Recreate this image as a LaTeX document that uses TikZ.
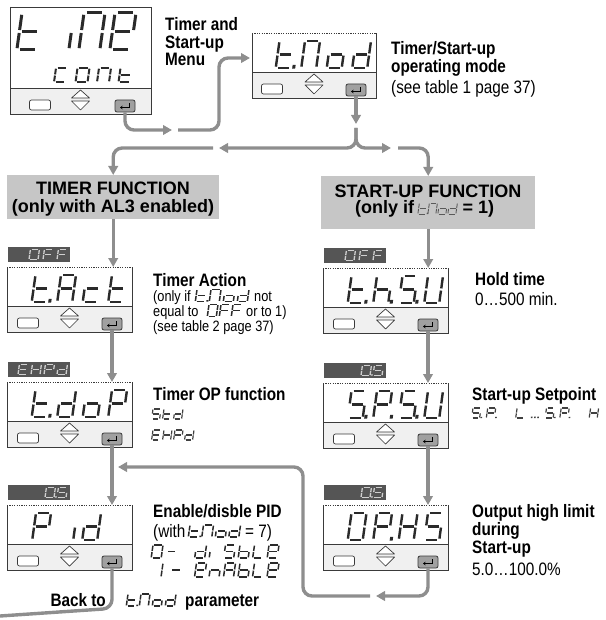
\documentclass[tikz,border=0pt]{standalone}
\usepackage{fontspec}
\setmainfont{Liberation Sans}[FakeStretch=0.85,BoldFeatures={FakeStretch=0.85}]
\newfontfamily\hdrfont{Liberation Sans}
\usetikzlibrary{arrows.meta,calc}
\definecolor{flowc}{HTML}{8E8E8E}
\definecolor{hdrc}{HTML}{C6C6C6}
\definecolor{badgec}{HTML}{555555}
\definecolor{segdk}{HTML}{2A2A2A}
\definecolor{seglt}{HTML}{D0D0D0}
\definecolor{stripc}{HTML}{F0F0F0}
\definecolor{entc}{HTML}{A0A0A0}
\definecolor{edgec}{HTML}{3A3A3A}

\makeatletter
\def\sgm@t{d,e,f,g}
\def\sgm@i{c}
\def\sgm@ie{e}
\def\sgm@M{a,b,c,e,f}
\def\sgm@E{a,d,e,f,g}
\def\sgm@e{a,b,d,e,f,g}
\def\sgm@c{d,e,g}
\def\sgm@C{a,d,e,f}
\def\sgm@o{c,d,e,g}
\def\sgm@O{a,b,c,d,e,f}
\def\sgm@n{c,e,g}
\def\sgm@N{a,b,c,e,f}
\def\sgm@d{b,c,d,e,g}
\def\sgm@F{a,e,f,g}
\def\sgm@H{b,c,e,f,g}
\def\sgm@P{a,b,e,f,g}
\def\sgm@A{a,b,c,e,f,g}
\def\sgm@S{a,c,d,f,g}
\def\sgm@U{b,c,d,e,f}
\def\sgm@h{c,e,f,g}
\def\sgm@L{d,e,f}
\def\sgm@b{c,d,e,f,g}
\def\sgm@one{b,c}
\def\sgm@m{g}
\def\sgm@sp{z}
\def\sgm@el{q}
\def\sgd@a{\draw (0.14,0)--(0.86,0);}
\def\sgd@b{\draw (1,0.05)--(1,0.46);}
\def\sgd@c{\draw (1,0.54)--(1,0.95);}
\def\sgd@d{\draw (0.14,1)--(0.86,1);}
\def\sgd@e{\draw (0,0.54)--(0,0.95);}
\def\sgd@f{\draw (0,0.05)--(0,0.46);}
\def\sgd@g{\draw (0.14,0.5)--(0.86,0.5);}
\def\sgd@z{}
\def\sgd@q{\foreach \dotx in {0.05,0.45,0.85}{\fill (\dotx,0.86) rectangle (\dotx+0.2,1.02);}}
\newcommand\sevseg[6][]{%
  \begin{scope}[shift={#2},#1]
  \foreach \ch/\dt [count=\k from 0] in {#6}{%
    \begin{scope}[shift={({\k*#5},0)},xslant=0.14,xscale=#4,yscale=#3]
      \edef\seglist{\csname sgm@\ch\endcsname}%
      \foreach \s in \seglist {\csname sgd@\s\endcsname}%
      \ifnum\dt=1 \fill (1.1,0.88) rectangle (1.3,1.02);\fi
    \end{scope}}%
  \end{scope}}
\makeatother

\tikzset{
  dispbox/.style={anchor=north west, inner sep=0pt, outer sep=0pt, fill=white, draw=none},
  edge/.style={draw=edgec, line width=0.8pt},
  lbtn/.style={draw=edgec, fill=white, rounded corners=2pt, minimum width=21pt, minimum height=10pt, inner sep=0pt, line width=0.7pt},
  ebtn/.style={draw=edgec, fill=entc, rounded corners=2pt, minimum width=20pt, minimum height=12pt, inner sep=0pt, line width=0.8pt},
  updn/.style={draw=edgec, fill=white, line width=0.7pt, line join=round},
  entsym/.style={draw=black, line width=0.8pt, -{Stealth[length=2.5pt,width=3.5pt]}},
  flow/.style={draw=flowc, line width=3.4pt, rounded corners=9pt},
  arr/.style={flow, -{Triangle[length=9pt,width=9.5pt]}},
  badge/.style={anchor=north west, fill=badgec, minimum width=62pt, minimum height=15pt, inner sep=0pt},
  hdrbox/.style={fill=hdrc, inner sep=0pt, anchor=north west},
  lab/.style={anchor=base west, inner sep=0pt, font=\fontsize{18}{20}\selectfont\bfseries},
  txt/.style={anchor=base west, inner sep=0pt, font=\fontsize{18}{20}\selectfont},
  txts/.style={anchor=base west, inner sep=0pt, font=\fontsize{15}{17}\selectfont},
  hdrt/.style={anchor=base, inner sep=0pt, font=\hdrfont\fontsize{18}{20}\selectfont\bfseries},
  dsp/.style={segdk, line width=2.4pt},
  inl/.style={segdk, line width=1.5pt},
  sml/.style={black!75, line width=1.2pt},
  bdg/.style={seglt, line width=1.3pt}
}

% name, x, y, w, h, left-button offset, enter offset, top edge style
\newcommand\disp[8]{%
  \node[dispbox,minimum width=#4pt,minimum height=#5pt] (#1) at (#2,#3) {};
  \fill[stripc] ($(#1.south west)+(0,-26)$) rectangle (#1.south east);
  \draw[edge] (#1.north west) -- (#1.south west) -- (#1.south east) -- (#1.north east);
  \draw[edge,#8] (#1.north west) -- (#1.north east);
  \draw[edge] ($(#1.south west)+(0,-26)$) -- ($(#1.south east)+(0,-26)$);
  \node[lbtn] (#1-l) at ($(#1.south west)+(#6,-9)$) {};
  \node[ebtn] (#1-e) at ($(#1.south east)+(-#7,-8)$) {};
  \draw[updn] ($(#1.south)+(-9,-16)$) -- ($(#1.south)+(0,-24)$) -- ($(#1.south)+(9,-16)$) -- cycle;
  \draw[updn] ($(#1.south)+(-9,-13)$) -- ($(#1.south)+(0,-4)$) -- ($(#1.south)+(9,-13)$) -- cycle;
  \draw[entsym] ($(#1-e)+(4.5,-3)$) -- ($(#1-e)+(4.5,1.5)$) -- ($(#1-e)+(-5,1.5)$);
}

\begin{document}
\begin{tikzpicture}[x=1pt,y=-1pt]
\useasboundingbox (0,0) rectangle (605,620);

% ---------- displays ----------
\disp{time}{10}{7}{141}{107}{30}{26}{solid}
\sevseg[segdk,line width=3pt]{(22,13)}{37}{21}{31}{t/0,i/0,M/0,e/0}
\sevseg[segdk,line width=2pt]{(56,68)}{14}{12}{21.5}{C/0,O/0,N/0,t/0}

\disp{tmod}{252}{33}{124}{65}{20}{20}{dash pattern=on 1.2pt off 1.2pt}
\sevseg[dsp]{($(tmod.north east)+(-96.5,8)$)}{27}{15}{25.5}{t/1,M/0,o/0,d/0}

\disp{tact}{7}{267}{125}{65}{21}{20}{dash pattern=on 1.2pt off 1.2pt}
\sevseg[dsp]{($(tact.north east)+(-96.5,8)$)}{27}{15}{25.5}{t/1,A/0,c/0,t/0}
\disp{tdop}{7}{382}{125}{65}{21}{20}{dash pattern=on 1.2pt off 1.2pt}
\sevseg[dsp]{($(tdop.north east)+(-96.5,8)$)}{27}{15}{25.5}{t/1,d/0,o/0,P/0}
\disp{pid}{7}{505}{125}{65}{21}{20}{dash pattern=on 1.2pt off 1.2pt}
\sevseg[dsp]{($(pid.north west)+(29,8)$)}{27}{15}{0}{P/0}
\sevseg[dsp]{($(pid.north west)+(70,8)$)}{27}{15}{0}{ie/0}
\sevseg[dsp]{($(pid.north west)+(79,8)$)}{27}{15}{0}{d/0}

\disp{thsu}{323}{268}{125}{65}{21}{20}{dash pattern=on 1.2pt off 1.2pt}
\sevseg[dsp]{($(thsu.north east)+(-96.5,8)$)}{27}{15}{25.5}{t/1,h/1,S/1,U/0}
\disp{spsu}{323}{383}{125}{65}{21}{20}{dash pattern=on 1.2pt off 1.2pt}
\sevseg[dsp]{($(spsu.north east)+(-96.5,8)$)}{27}{15}{25.5}{S/1,P/1,S/1,U/0}
\disp{ophs}{323}{505}{125}{65}{21}{20}{dash pattern=on 1.2pt off 1.2pt}
\sevseg[dsp]{($(ophs.north east)+(-96.5,8)$)}{27}{15}{25.5}{O/0,P/1,H/0,S/0}

% ---------- badges ----------
\node[badge] (tactb) at (8,247) {};
\sevseg[bdg]{($(tactb.north east)+(-40,2.5)$)}{10}{9}{14}{O/0,F/0,F/0}
\node[badge] (tdopb) at (8,362) {};
\sevseg[bdg]{($(tdopb.north east)+(-51,2.5)$)}{10}{9}{13}{E/0,H/0,P/0,d/0}
\node[badge] (pidb) at (8,485) {};
\sevseg[bdg]{($(pidb.north east)+(-24,2.5)$)}{10}{9}{12}{O/1,S/0}
\node[badge] (thsub) at (324,248) {};
\sevseg[bdg]{($(thsub.north east)+(-40,2.5)$)}{10}{9}{14}{O/0,F/0,F/0}
\node[badge] (spsub) at (324,363) {};
\sevseg[bdg]{($(spsub.north east)+(-24,2.5)$)}{10}{9}{12}{O/1,S/0}
\node[badge] (ophsb) at (324,485) {};
\sevseg[bdg]{($(ophsb.north east)+(-24,2.5)$)}{10}{9}{12}{O/1,S/0}

% ---------- headers ----------
\node[hdrbox,minimum width=212pt,minimum height=44pt] (timer) at (7,175) {};
\node[hdrt] (th1) at (113,195) {TIMER FUNCTION};
\node[hdrt] (th2) at (113,212) {(only with AL3 enabled)};
\node[hdrbox,minimum width=214pt,minimum height=53pt] (startup) at (321,176) {};
\node[hdrt] (sh1) at (428,197) {START-UP FUNCTION};
\node[hdrt,anchor=base west] (sh2a) at (355,214) {(only if};
\sevseg[black!65,line width=0.9pt]{($(sh2a.base east)+(5,-11)$)}{11}{8}{10}{t/1,M/0,o/0,d/0}
\node[hdrt,anchor=base west] (sh2b) at ($(sh2a.base east)+(48,0)$) {= 1)};

% ---------- labels ----------
\node[lab] (m1) at (165,31) {Timer and};
\node[lab] (m2) at (165,48.5) {Start-up};
\node[lab] (m3) at (165,66) {Menu};
\node[lab] (o1) at (391,55) {Timer/Start-up};
\node[lab] (o2) at (391,73) {operating mode};
\node[txt] (o3) at (391,94) {(see table 1 page 37)};

\node[lab] (a1) at (153,286) {Timer Action};
\node[txts] (a2) at (153,301.5) {(only if};
\sevseg[inl]{(197,289.5)}{12}{10}{14}{t/1,M/0,o/0,d/0}
\node[txts] (a3) at (254,301.5) {not};
\node[txts] (a4) at (153,316.5) {equal to};
\sevseg[inl]{(209,304.5)}{12}{9}{12}{O/0,F/0,F/0}
\node[txts] (a5) at (246,316.5) {or to 1)};
\node[txts] (a6) at (153,331.5) {(see table 2 page 37)};

\node[lab] (h1) at (475,285) {Hold time};
\node[txt] (h2) at (475,305) {0…500 min.};

\node[lab] (p1) at (153,400) {Timer OP function};
\sevseg[sml]{(153,409)}{10}{8}{11}{S/0,t/0,d/0}
\sevseg[sml]{(153,430)}{10}{8}{11}{E/0,H/0,P/0,d/0}

\node[lab] (s1) at (472,400) {Start-up Setpoint};
\sevseg[sml]{(473,408)}{10}{8}{14.7}{S/1,P/1,sp/0,L/0,el/0,S/1,P/1,sp/0,H/0}

\node[lab] (e1) at (153,517) {Enable/disble PID};
\node[txt] (e2) at (153,537) {(with};
\sevseg[inl]{(190,525)}{12}{10}{13.5}{t/1,M/0,o/0,d/0}
\node[txt] (e3) at (245,537) {= 7)};
\sevseg[inl]{(153,545)}{13}{10}{14.5}{O/0,m/0,sp/0,d/0,ie/0,S/0,b/0,L/0,e/0}
\sevseg[inl]{(153,563)}{14}{10}{0}{one/0}
\sevseg[inl]{(172,563)}{14}{10}{0}{m/0}
\sevseg[inl]{(196.5,563)}{14}{10}{14.5}{e/0,n/0,A/0,b/0,L/0,e/0}

\node[lab] (u1) at (472,517) {Output high limit};
\node[lab] (u2) at (472,535) {during};
\node[lab] (u3) at (472,553) {Start-up};
\node[txt] (u4) at (472,575) {5.0…100.0\%};

\node[lab,anchor=base east] (k1) at (106,606) {Back to};
\sevseg[inl]{(128,594)}{12}{9}{13}{t/1,M/0,o/0,d/0}
\node[lab] (k2) at (185,606) {parameter};

% ---------- connectors ----------
\coordinate (c1) at (172,130);
\coordinate (c2) at (178,130);
\coordinate (c3) at (219,130);
\coordinate (c4) at (250,58);
\draw[arr] (time-e.south) |- (c1);
\draw[arr] (c2) -- (c3) |- (c4);

\coordinate (q1) at (356,124);
\coordinate (q2) at (356,128);
\coordinate (qL) at (219,148);
\coordinate (qR) at (391,148);
\coordinate (qL2) at (213,148);
\coordinate (qR2) at (398,148);
\draw[arr] (tmod-e.south) -- (q1);
\draw[arr] (q2) |- (qL);
\draw[arr] (q2) |- (qR);
\draw[arr] (qL2) -| (timer.north);
\draw[arr] (qR2) -| (startup.north);

\draw[arr] (timer.south) -- (timer.south |- tact.north);
\draw[arr] (tact-e.south) -- (tact-e.south |- tdop.north);
\draw[arr] (tdop-e.south) -- (tdop-e.south |- pid.north);
\draw[arr] (startup.south) -- (startup.south |- thsu.north);
\draw[arr] (thsu-e.south) -- (thsu-e.south |- spsu.north);
\draw[arr] (spsu-e.south) -- (spsu-e.south |- ophs.north);

\coordinate (r1) at (376,596);
\coordinate (r2) at (370,596);
\coordinate (r3) at (303,596);
\coordinate (r4) at (118,467);
\draw[arr] (ophs-e.south) |- (r1);
\draw[arr] (r2) -- (r3) |- (r4);

\coordinate (x2) at (0,616);
\draw[flow] (pid-e.south) -- ++(0,40) -- (x2);
\end{tikzpicture}
\end{document}
